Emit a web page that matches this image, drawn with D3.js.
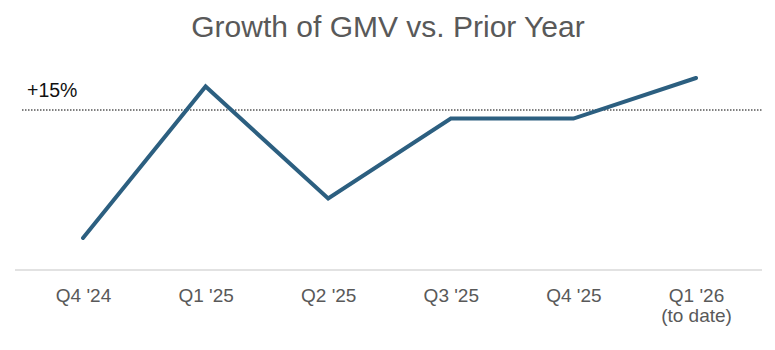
<!DOCTYPE html>
<html><head><meta charset="utf-8">
<script src="https://cdn.jsdelivr.net/npm/d3@7"></script>
<style>body{margin:0;background:#fff}svg{display:block}</style>
</head><body><svg id="c" width="775" height="350"></svg>
<script>
const categories = ["Q4 '24", "Q1 '25", "Q2 '25", "Q3 '25", "Q4 '25", "Q1 '26"];
const subLabels = ["", "", "", "", "", "(to date)"];
const growth = [3.0, 17.2, 6.7, 14.2, 14.2, 18.0];
const refValue = 15;
const refLabel = "+15%";
const title = "Growth of GMV vs. Prior Year";

const svg = d3.select("#c");
const font = "'Liberation Sans', Arial, sans-serif";

const x = d3.scalePoint().domain(categories).range([83, 696]);
const y = d3.scaleLinear().domain([0, 15]).range([270, 110]);

svg.append("text").attr("x", 388).attr("y", 37).attr("text-anchor", "middle")
  .attr("font-family", font).attr("font-size", 30).attr("fill", "#595959").text(title);

// baseline
svg.append("line").attr("x1", 15).attr("x2", 762).attr("y1", y(0)).attr("y2", y(0))
  .attr("stroke", "#d9d9d9").attr("stroke-width", 1.5);

// reference line
svg.append("line").attr("x1", 22).attr("x2", 762).attr("y1", y(refValue)).attr("y2", y(refValue))
  .attr("stroke", "#000").attr("stroke-width", 1).attr("stroke-dasharray", "1.5,1.5");
svg.append("text").attr("x", 27).attr("y", y(refValue) - 13)
  .attr("font-family", font).attr("font-size", 19.5).attr("fill", "#111").text(refLabel);

// axis labels
const xAxis = d3.axisBottom(x).tickSize(0).tickPadding(0);
const ax = svg.append("g").attr("transform", `translate(0,${y(0)})`).call(xAxis);
ax.select(".domain").remove();
ax.selectAll(".tick text").remove();
ax.selectAll(".tick").each(function(d, i) {
  const t = d3.select(this).append("text").attr("text-anchor", "middle")
    .attr("font-family", font).attr("font-size", 19).attr("fill", "#595959");
  t.append("tspan").attr("x", 0).attr("y", 32).text(d);
  if (subLabels[i]) t.append("tspan").attr("x", 0).attr("y", 52).text(subLabels[i]);
});

const line = d3.line().x((d, i) => x(categories[i])).y(d => y(d));
svg.append("path").datum(growth).attr("d", line).attr("fill", "none")
  .attr("stroke", "#2c5f80").attr("stroke-width", 4)
  .attr("stroke-linecap", "round").attr("stroke-linejoin", "miter");
</script></body></html>
